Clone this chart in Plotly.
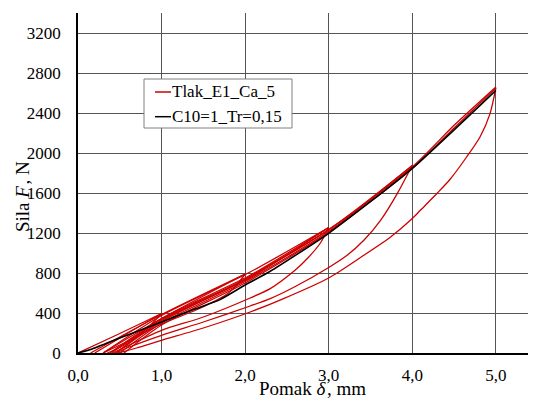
import plotly.graph_objects as go

# ---- data ----
x_ticks = [0, 1, 2, 3, 4, 5]
x_tick_labels = ["0,0", "1,0", "2,0", "3,0", "4,0", "5,0"]
y_ticks = [0, 400, 800, 1200, 1600, 2000, 2400, 2800, 3200]

# model curve (black)
model_x = [0.0, 0.17, 0.5, 1.0, 1.4, 1.7, 2.0, 2.3, 3.0, 4.0, 5.0]
model_f = [0, 40, 150, 310, 440, 534, 680, 817, 1197, 1847, 2627]

# experiment (red): loading branches
load1a_x = [0.0, 0.5, 1.0]
load1a_f = [0, 195, 395]
load1b_x = [0.2, 0.6, 1.0]
load1b_f = [0, 200, 395]
load2a_x = [0.15, 1.0, 2.0]
load2a_f = [0, 385, 790]
load2b_x = [0.3, 1.0, 2.0]
load2b_f = [0, 345, 790]
load3a_x = [0.3, 1.0, 2.06, 3.0]
load3a_f = [0, 375, 810, 1255]
load3b_x = [0.38, 1.0, 2.06, 3.0]
load3b_f = [0, 345, 777, 1255]
load3c_x = [0.45, 1.0, 2.06, 3.0]
load3c_f = [0, 325, 754, 1255]
load4a_x = [0.4, 1.0, 2.0, 3.02, 4.0]
load4a_f = [0, 335, 740, 1244, 1875]
load4b_x = [0.5, 1.0, 2.0, 3.02, 4.0]
load4b_f = [0, 300, 715, 1227, 1875]
load5a_x = [0.45, 1.0, 2.0, 3.0, 4.0, 4.5, 5.0]
load5a_f = [0, 315, 735, 1235, 1862, 2277, 2660]
load5b_x = [0.55, 1.0, 2.0, 3.0, 4.0, 4.5, 5.0]
load5b_f = [0, 280, 700, 1205, 1845, 2250, 2650]

# experiment (red): unloading branches
unl1_x = [1.0, 0.85, 0.7, 0.5, 0.35]
unl1_f = [395, 265, 160, 55, 0]
unl2_x = [2.0, 1.9, 1.8, 1.72, 1.4, 1.0, 0.6, 0.3]
unl2_f = [790, 680, 600, 556, 425, 290, 120, 0]
unl3_x = [3.0, 2.9, 2.75, 2.6, 2.3, 2.06, 1.5, 1.0, 0.6, 0.42]
unl3_f = [1252, 1100, 950, 830, 644, 550, 360, 227, 75, 0]
unl4_x = [4.0, 3.82, 3.62, 3.42, 3.22, 3.0, 2.6, 2.3, 2.06, 1.5, 1.0, 0.6, 0.45]
unl4_f = [1877, 1594, 1327, 1127, 977, 855, 665, 544, 470, 310, 177, 55, 0]
unl5_x = [5.0, 4.93, 4.81, 4.65, 4.45, 4.3, 4.1, 4.0, 3.74, 3.42, 3.0, 2.46, 2.06, 1.5, 1.0, 0.7, 0.48]
unl5_f = [2654, 2394, 2160, 1960, 1735, 1600, 1430, 1344, 1160, 977, 750, 544, 410, 250, 127, 50, 0]

red_curves = [
    (load1a_x, load1a_f), (load1b_x, load1b_f),
    (load2a_x, load2a_f), (load2b_x, load2b_f),
    (load3a_x, load3a_f), (load3b_x, load3b_f), (load3c_x, load3c_f),
    (load4a_x, load4a_f), (load4b_x, load4b_f),
    (load5a_x, load5a_f), (load5b_x, load5b_f),
    (unl1_x, unl1_f), (unl2_x, unl2_f), (unl3_x, unl3_f),
    (unl4_x, unl4_f), (unl5_x, unl5_f),
]

legend_labels = ["Tlak_E1_Ca_5", "C10=1_Tr=0,15"]
x_title = "Pomak <i>δ</i>\u200a, mm"
y_title = "Sila <i>F</i>\u200a, N"

RED = "#cc0000"
FONT = "Liberation Serif"

fig = go.Figure()
for cx, cf in red_curves:
    fig.add_trace(go.Scatter(x=cx, y=cf, mode="lines",
                             line=dict(color=RED, width=1.3, shape="spline", smoothing=0.7),
                             showlegend=False, hoverinfo="skip"))
fig.add_trace(go.Scatter(x=model_x, y=model_f, mode="lines",
                         line=dict(color="black", width=1.6, shape="spline", smoothing=0.5),
                         showlegend=False))

# geometry (the page body adds an 8px offset; positions below are window pixels)
OFF = 8
W, H = 536, 400
ML, MT = 78 - OFF, 13 - OFF
PB = 353 - OFF
PR = 536 - OFF
MR, MB = W - PR, H - PB
PW, PH = PR - ML, PB - MT


def px(xw):
    return (xw - OFF - ML) / PW


def py(yw):
    return (PB - (yw - OFF)) / PH


# custom legend box
fig.add_shape(type="rect", xref="paper", yref="paper",
              x0=px(144), x1=px(292), y0=py(128), y1=py(79),
              line=dict(color="#808080", width=1), fillcolor="white", layer="above")
for i, (lab, col) in enumerate(zip(legend_labels, [RED, "black"])):
    yy = 92 + i * 24.7
    fig.add_shape(type="line", xref="paper", yref="paper",
                  x0=px(155), x1=px(171), y0=py(yy), y1=py(yy),
                  line=dict(color=col, width=1.5), layer="above")
    fig.add_annotation(xref="paper", yref="paper", x=px(171), y=py(yy),
                       text=lab, showarrow=False, xanchor="left", yanchor="middle",
                       xshift=-1, font=dict(family=FONT, size=17, color="black"))

# axis titles
fig.add_annotation(xref="paper", yref="paper", x=px(312), y=py(388),
                   text=x_title, showarrow=False, xanchor="center", yanchor="middle",
                   font=dict(family=FONT, size=19, color="black"))
fig.add_annotation(xref="paper", yref="paper", x=px(22), y=py(197),
                   text=y_title, showarrow=False, xanchor="center", yanchor="middle",
                   textangle=-90, font=dict(family=FONT, size=19, color="black"))

fig.update_layout(
    width=W, height=H,
    margin=dict(l=ML, r=MR, t=MT, b=MB, autoexpand=False),
    paper_bgcolor="white", plot_bgcolor="white",
    font=dict(family=FONT, size=17, color="black"),
    showlegend=False,
)
fig.update_xaxes(range=[0, 5.48], tickvals=x_ticks, ticktext=x_tick_labels,
                 automargin=False,
                 showgrid=True, gridcolor="#555555", gridwidth=1,
                 showline=True, linecolor="black", linewidth=1.5,
                 zeroline=False, ticks="outside", ticklen=6, tickcolor="rgba(0,0,0,0)",
                 tickfont=dict(family=FONT, size=17))
fig.update_yaxes(range=[0, 3400], tickvals=y_ticks,
                 automargin=False,
                 showgrid=True, gridcolor="#555555", gridwidth=1,
                 showline=True, linecolor="black", linewidth=1.5,
                 zeroline=False, ticks="outside", ticklen=12, tickcolor="rgba(0,0,0,0)",
                 tickfont=dict(family=FONT, size=17))

fig.write_html("out.html")
